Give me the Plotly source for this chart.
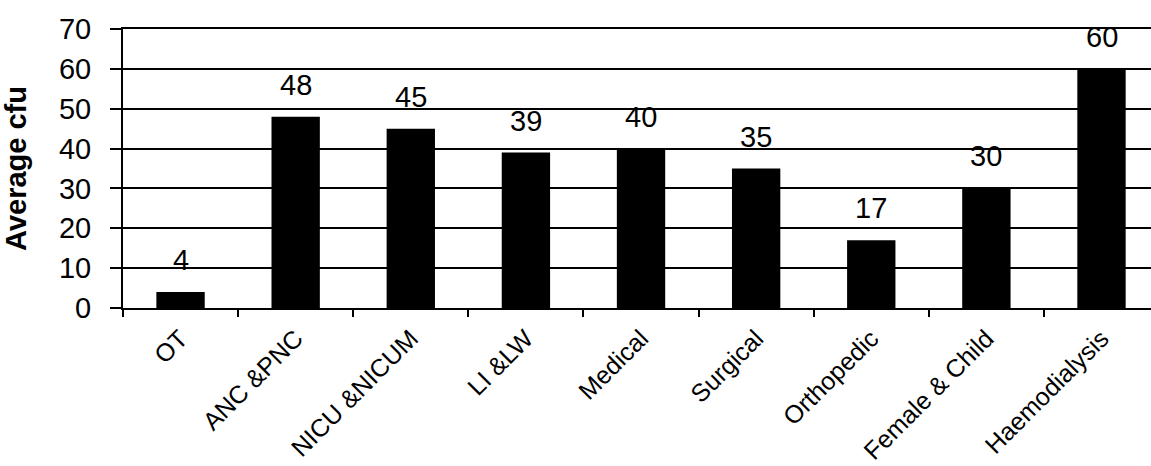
import plotly.graph_objects as go

categories = ["OT", "ANC &PNC", "NICU &NICUM", "LI &LW", "Medical", "Surgical",
              "Orthopedic", "Female & Child", "Haemodialysis"]
values = [4, 48, 45, 39, 40, 35, 17, 30, 60]
y_ticks = [0, 10, 20, 30, 40, 50, 60, 70]

FONT = "Liberation Sans, Arial, sans-serif"

fig = go.Figure()
fig.add_trace(go.Bar(x=categories, y=values, marker=dict(color="black", line=dict(width=0)),
                     showlegend=False, hoverinfo="skip"))

for c, v in zip(categories, values):
    fig.add_annotation(x=c, y=v, text=str(v), showarrow=False, yanchor="bottom",
                       yshift=14, font=dict(family=FONT, size=29, color="black"))

fig.update_layout(
    width=1151, height=466,
    margin=dict(l=123, r=0, t=29, b=158),
    paper_bgcolor="white", plot_bgcolor="white",
    bargap=0.58,
    font=dict(family=FONT, color="black"),
)
fig.update_xaxes(
    type="category", range=[-0.5, 8.43], automargin=False,
    tickson="boundaries", ticks="outside", ticklen=7, tickwidth=2, tickcolor="black",
    tickangle=-45, tickfont=dict(family=FONT, size=25, color="black"),
    showgrid=False, showline=True, linecolor="black", linewidth=2, mirror=True,
    ticklabelstandoff=4,
)
fig.update_yaxes(
    range=[0, 70], tickvals=y_ticks, ticks="outside", ticklen=11, tickwidth=2, tickcolor="black",
    automargin=False,
    tickfont=dict(family=FONT, size=29, color="black"),
    showgrid=True, gridcolor="black", gridwidth=2,
    showline=True, linecolor="black", linewidth=2, zeroline=False,
    ticklabelstandoff=13,
    title=dict(text="<b>Average cfu</b>", font=dict(family=FONT, size=29, color="black"), standoff=24),
)

fig.write_html("out.html")
